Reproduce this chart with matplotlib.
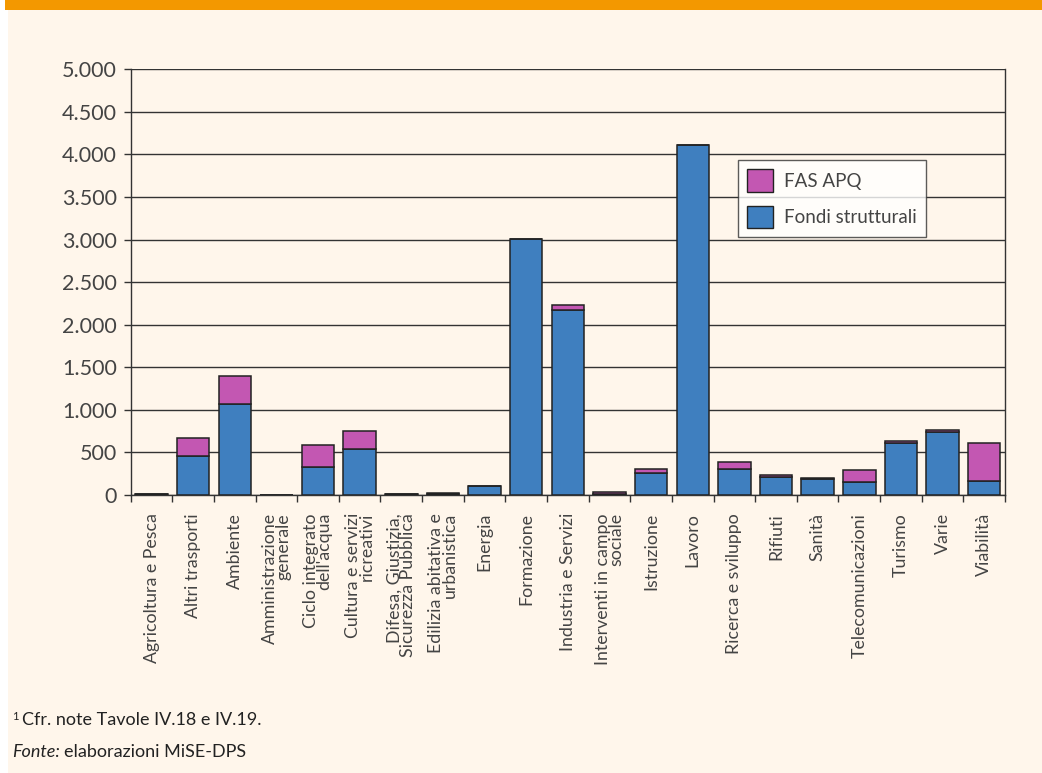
import matplotlib
matplotlib.use("Agg")
import matplotlib.pyplot as plt
from matplotlib.patches import Rectangle, Patch
import numpy as np

# data (milioni di euro)
categorie = [
    "Agricoltura e Pesca", "Altri trasporti", "Ambiente",
    "Amministrazione\ngenerale", "Ciclo integrato\ndell'acqua",
    "Cultura e servizi\nricreativi", "Difesa, Giustizia,\nSicurezza Pubblica",
    "Edilizia abitativa e\nurbanistica", "Energia", "Formazione",
    "Industria e Servizi", "Interventi in campo\nsociale", "Istruzione",
    "Lavoro", "Ricerca e sviluppo", "Rifiuti", "Sanità",
    "Telecomunicazioni", "Turismo", "Varie", "Viabilità",
]
fondi_strutturali = [9, 462, 1067, 3, 334, 538, 6, 6, 102, 3010, 2168, 10,
                     262, 4110, 310, 207, 188, 152, 605, 740, 160]
fas_apq = [0, 205, 328, 0, 254, 215, 0, 22, 0, 0, 58, 30,
           44, 0, 83, 25, 17, 138, 27, 24, 456]
y_ticks = [0, 500, 1000, 1500, 2000, 2500, 3000, 3500, 4000, 4500, 5000]

BLUE = "#3f7fbf"
PINK = "#c357b2"
CREAM = "#fff6eb"
ORANGE = "#f39800"
EDGE = "#222222"
TXT = "#444444"

plt.rcParams["font.family"] = ["Lato", "DejaVu Sans"]

fig = plt.figure(figsize=(10.42, 7.73), dpi=100, facecolor="white")
W, H = 1042, 773
# page background and orange band
fig.patches.append(Rectangle((8 / W, 0), 1, 1 - 10 / H, transform=fig.transFigure,
                             facecolor=CREAM, edgecolor="none", zorder=-2))
fig.patches.append(Rectangle((5 / W, 1 - 10 / H), 1, 10 / H, transform=fig.transFigure,
                             facecolor=ORANGE, edgecolor="none", zorder=-2))

ax = fig.add_axes([130.7 / W, 1 - 495 / H, (1005 - 130.7) / W, (495 - 69.3) / H])
ax.set_facecolor("none")

x = np.arange(len(categorie))
ax.bar(x, fondi_strutturali, width=0.78, color=BLUE, edgecolor=EDGE, linewidth=1.1,
       zorder=3, label="Fondi strutturali")
ax.bar(x, fas_apq, width=0.78, bottom=fondi_strutturali, color=PINK, edgecolor=EDGE,
       linewidth=1.1, zorder=3, label="FAS APQ")

ax.set_xlim(-0.5, len(categorie) - 0.5)
ax.set_ylim(0, 5000)
ax.set_yticks(y_ticks)
ax.set_yticklabels([f"{v:,}".replace(",", ".") for v in y_ticks],
                   fontsize=15.5, color=TXT)
ax.yaxis.grid(True, color="#333333", linewidth=1.0, zorder=1)
ax.tick_params(axis="y", length=5, width=1, color="#333333", pad=5)

ax.set_xticks(x)
ax.set_xticklabels(categorie, rotation=90, fontsize=12.8, color=TXT,
                   va="top", ha="center", multialignment="right", linespacing=0.8)
ax.set_xticks(np.arange(-0.5, len(categorie)), minor=True)
ax.tick_params(axis="x", which="major", length=0, pad=13)
ax.tick_params(axis="x", which="minor", length=5, width=1, color="#333333")

for side in ["left", "bottom", "right"]:
    ax.spines[side].set_color("#333333")
    ax.spines[side].set_linewidth(1.0)
ax.spines["top"].set_visible(False)

handles = [Patch(facecolor=PINK, edgecolor=EDGE, label="FAS APQ"),
           Patch(facecolor=BLUE, edgecolor=EDGE, label="Fondi strutturali")]
leg = fig.legend(handles=handles, loc="upper left",
                 bbox_to_anchor=(738 / W, 1 - 160 / H), frameon=True, fancybox=False,
                 fontsize=13.5, handlelength=1.35, handleheight=1.45, labelspacing=0.75,
                 borderpad=0.5, handletextpad=0.6, borderaxespad=0)
leg.get_frame().set_edgecolor("#333333")
leg.get_frame().set_linewidth(1.0)
leg.get_frame().set_facecolor("white")
for t in leg.get_texts():
    t.set_color(TXT)

fig.text(12 / W, 1 - 716 / H, "1", fontsize=8, color="#222222", va="center")
fig.text(22 / W, 1 - 720 / H, "Cfr. note Tavole IV.18 e IV.19.", fontsize=13,
         color="#222222", va="center")
fig.text(12 / W, 1 - 752 / H, "Fonte:", fontsize=13, style="italic",
         color="#222222", va="center")
fig.text(64 / W, 1 - 752 / H, "elaborazioni MiSE-DPS", fontsize=13,
         color="#222222", va="center")

fig.savefig("out.png", dpi=100, facecolor=fig.get_facecolor())
